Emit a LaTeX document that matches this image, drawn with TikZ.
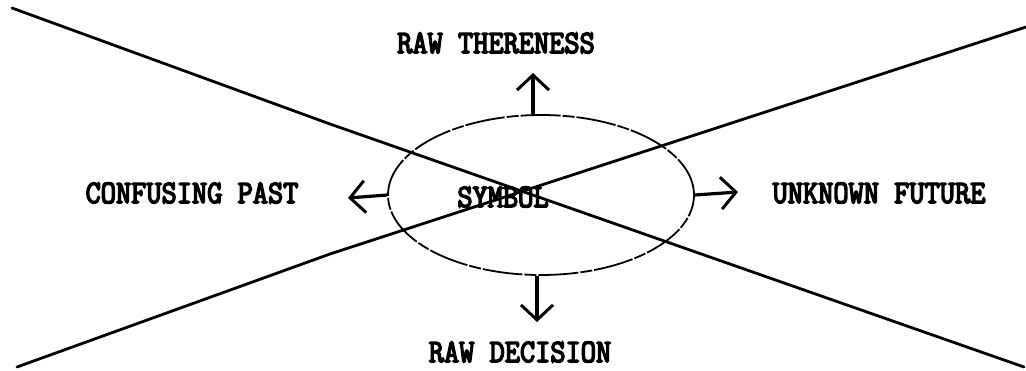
\documentclass[tikz,border=0pt]{standalone}
\usepackage{fontspec}
\newfontfamily\tw{Latin Modern Mono}[FakeStretch=0.9, FakeBold=4.5]
\usetikzlibrary{arrows.meta,shapes.geometric}
\begin{document}
\begin{tikzpicture}[x=1pt,y=-1pt,
  lbl/.style={font=\tw\fontsize{32.8}{34}\selectfont, inner sep=0pt, anchor=center},
  cross/.style={line width=2.8pt, line cap=round, line join=round},
  ring/.style={draw, ellipse, line width=1.8pt, dash pattern=on 40pt off 2pt on 12pt off 2pt, minimum width=306pt, minimum height=160pt, inner sep=0pt},
  arr/.style={line width=3.2pt, -{Straight Barb[length=15pt,width=32pt,line width=3pt]}}
]
\useasboundingbox (0,0) rectangle (1026,370);
% crossing lines
\coordinate (a1) at (12,8);
\coordinate (a2) at (330,124);
\coordinate (a3) at (1024,367);
\coordinate (b1) at (17,367);
\coordinate (b2) at (330,254);
\coordinate (b3) at (1026,27);
\draw[cross] (a1) -- (a2) -- (a3);
\draw[cross] (b1) -- (b2) -- (b3);
% ellipse
\node[ring] (ell) at (541,195) {};
\node[lbl] (sym) at (503,197) {SYMBOL};
% labels
\node[lbl] (top) at (496,43) {RAW THERENESS};
\node[lbl] (left) at (192,193) {CONFUSING PAST};
\node[lbl] (right) at (879,193) {UNKNOWN FUTURE};
\node[lbl] (bot) at (520,352) {RAW DECISION};
% arrow tips
\coordinate (tU) at (533,73);
\coordinate (tL) at (348,198);
\coordinate (tR) at (738,192);
\coordinate (tD) at (537,322);
\draw[arr] (ell.north -| tU) -- (tU);
\draw[arr] (ell.west) -- (tL);
\draw[arr] (ell.east) -- (tR);
\draw[arr] (ell.south -| tD) -- (tD);
\end{tikzpicture}
\end{document}
